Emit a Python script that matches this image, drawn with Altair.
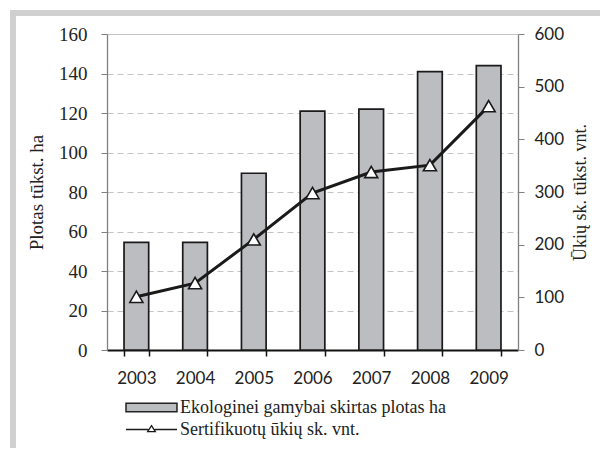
import altair as alt
import pandas as pd

years = ["2003", "2004", "2005", "2006", "2007", "2008", "2009"]
area = [54.5, 54.5, 89.5, 121, 122, 141, 144]
farms = [101, 127, 210, 298, 338, 351, 463]
area_label = "Ekologinei gamybai skirtas plotas ha"
farms_label = "Sertifikuotų ūkių sk. vnt."
left_ticks = [0, 20, 40, 60, 80, 100, 120, 140, 160]
right_ticks = [0, 100, 200, 300, 400, 500, 600]

df = pd.DataFrame({"year": years, "area": area, "farms": farms,
                   "s1": [area_label] * len(years), "s2": [farms_label] * len(years)})

W, H = 411, 316
SERIF = "Liberation Serif"
SANS = "Lato"

xenc = alt.X("year:N", title=None,
             scale=alt.Scale(paddingInner=0.58, paddingOuter=0.29),
             axis=alt.Axis(tickBand="extent", domainColor="#111", domainWidth=2,
                           tickColor="#111", tickWidth=1.5, tickSize=6,
                           labelFont=SANS, labelFontSize=17, labelColor="#222",
                           labelPadding=14, labelAngle=0, grid=False))

bars = alt.Chart(df).mark_bar(stroke="#1a1a1a", strokeWidth=1.7).encode(
    x=xenc,
    y=alt.Y("area:Q", scale=alt.Scale(domain=[0, 160], nice=False),
            axis=alt.Axis(title="Plotas tūkst. ha", values=left_ticks, orient="left",
                          titleFont=SERIF, titleFontSize=19, titleFontWeight="normal",
                          titleColor="#222", titlePadding=12,
                          labelFont=SERIF, labelFontSize=19, labelColor="#222",
                          labelPadding=14, tickSize=6, tickColor="#808080",
                          domainColor="#808080", domainWidth=1.3,
                          grid=True, gridColor="#c4c4c4", gridWidth=1.2,
                          gridDash=alt.condition("datum.value === 160", alt.value([]), alt.value([6, 4])))),
    fill=alt.Fill("s1:N", scale=alt.Scale(domain=[area_label], range=["#bcbdc1"]),
                  legend=alt.Legend(title=None, orient="none", legendX=18, legendY=347,
                                    symbolType="M-1,-0.17H1V0.17H-1Z", symbolSize=2600,
                                    symbolStrokeColor="#222", symbolStrokeWidth=1.5,
                                    labelFont=SERIF, labelFontSize=18, labelColor="#222",
                                    labelOffset=2, labelLimit=0)),
)

frame = alt.Chart(pd.DataFrame({"k": [0]})).mark_rule(color="#d0d0d0", strokeWidth=6, clip=False)
frame_left = frame.encode(x=alt.value(-94), y=alt.value(-24), y2=alt.value(H + 120))
frame_top = frame.encode(x=alt.value(-97), x2=alt.value(W + 120), y=alt.value(-21))

yr = alt.Y("farms:Q", scale=alt.Scale(domain=[0, 600], nice=False),
           axis=alt.Axis(title="Ūkių sk. tūkst. vnt.", values=right_ticks, orient="right",
                         titleFont=SERIF, titleFontSize=18, titleFontWeight="normal",
                         titleColor="#222", titleAngle=270, titleBaseline="top", titlePadding=8,
                         labelFont=SANS, labelFontSize=17, labelColor="#222",
                         labelPadding=10, tickSize=6, tickColor="#808080",
                         domainColor="#808080", domainWidth=1.3, grid=False))

line = alt.Chart(df).mark_line(strokeWidth=3).encode(
    x=alt.X("year:N"),
    y=yr,
    stroke=alt.Stroke("s2:N", scale=alt.Scale(domain=[farms_label], range=["#1a1a1a"]),
                      legend=alt.Legend(title=None, orient="none", legendX=18, legendY=369,
                                        symbolType="M-1,0H-0.13M0.13,0H1M0,-0.15L0.15,0.08H-0.15Z",
                                        symbolSize=2600, symbolFillColor="white",
                                        symbolStrokeWidth=1.3,
                                        labelFont=SERIF, labelFontSize=18, labelColor="#222",
                                        labelOffset=2, labelLimit=0)),
)
points = alt.Chart(df).mark_point(shape="triangle-up", filled=True, fill="white",
                                  stroke="#1a1a1a", strokeWidth=1.6, size=170, opacity=1).encode(
    x=alt.X("year:N"), y=alt.Y("farms:Q"))

chart = alt.layer(
    alt.layer(bars, frame_left, frame_top),
    alt.layer(line, points),
).resolve_scale(y="independent", fill="independent", stroke="independent").properties(
    width=W, height=H,
    autosize=alt.AutoSizeParams(type="none"),
    padding={"left": 99, "top": 26, "right": 82, "bottom": 98},
).configure_view(stroke=None)

chart.save("out.html", embed_options={"renderer": "svg", "actions": False})
